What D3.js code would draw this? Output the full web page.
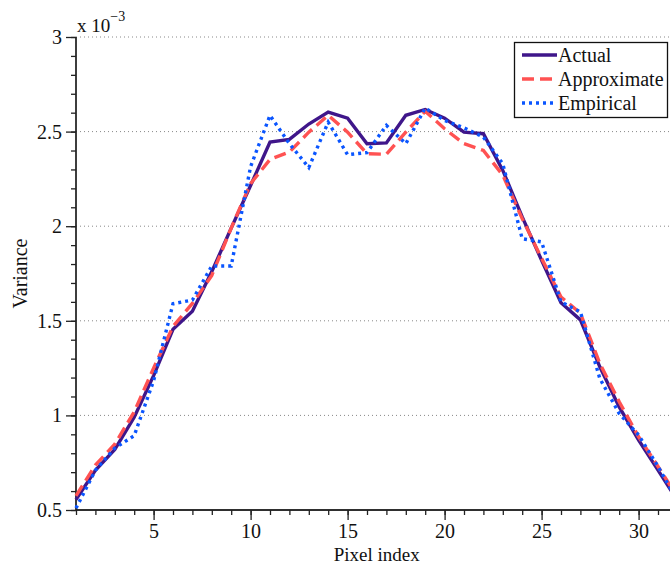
<!DOCTYPE html>
<html>
<head>
<meta charset="utf-8">
<script src="https://cdn.jsdelivr.net/npm/d3@7"></script>
<style>
  html, body { margin: 0; padding: 0; background: #fff; }
  svg { display: block; font-family: "Liberation Serif", "Times New Roman", serif; }
</style>
</head>
<body>
<svg id="chart" width="670" height="564"></svg>
<script>
// Pixel indices 1..32
const pixelIndex = d3.range(1, 33);

// Variance values, in units of 1e-3
const actual = [0.555, 0.71, 0.82, 0.99, 1.21, 1.455, 1.55, 1.76, 1.99, 2.215, 2.445, 2.459,
  2.54, 2.603, 2.571, 2.436, 2.44, 2.586, 2.617, 2.571, 2.497, 2.489, 2.295, 2.049,
  1.82, 1.595, 1.505, 1.257, 1.045, 0.87, 0.711, 0.55];
const approximate = [0.575, 0.737, 0.848, 1.019, 1.25, 1.47, 1.592, 1.74, 1.99, 2.225, 2.353, 2.392,
  2.497, 2.586, 2.497, 2.383, 2.38, 2.497, 2.607, 2.515, 2.436, 2.40, 2.27, 2.04,
  1.83, 1.626, 1.54, 1.275, 1.072, 0.887, 0.73, 0.57];
const empirical = [0.51, 0.71, 0.827, 0.893, 1.183, 1.59, 1.61, 1.79, 1.79, 2.315, 2.586, 2.436,
  2.31, 2.55, 2.378, 2.389, 2.533, 2.436, 2.624, 2.559, 2.52, 2.471, 2.33, 1.934,
  1.917, 1.6, 1.547, 1.195, 1.01, 0.896, 0.73, 0.55];

const yTicks = [0.5, 1, 1.5, 2, 2.5, 3];
const xTicks = [5, 10, 15, 20, 25, 30];
const gridValues = [1, 1.5, 2, 2.5, 3];

const series = [
  { name: "Actual", values: actual, color: "#3f168a", dash: null },
  { name: "Approximate", values: approximate, color: "#ff5252", dash: "12,6" },
  { name: "Empirical", values: empirical, color: "#0a55ff", dash: "3,4" }
];

const svg = d3.select("#chart");
const plotLeft = 76, plotTop = 37, plotBottom = 510;
const x = d3.scaleLinear().domain([1, 32]).range([plotLeft, plotLeft + 31 * 19.4]);
const y = d3.scaleLinear().domain([0.5, 3]).range([plotBottom, plotTop]);
const fontSize = 20;

// dotted horizontal grid
svg.append("g").selectAll("line").data(gridValues).join("line")
  .attr("x1", plotLeft).attr("x2", 670)
  .attr("y1", d => y(d)).attr("y2", d => y(d))
  .attr("stroke", "#888").attr("stroke-width", 1).attr("stroke-dasharray", "1,3");

// axes
const xAxis = svg.append("g").attr("transform", `translate(0,${plotBottom})`)
  .call(d3.axisBottom(x).tickValues(d3.range(1, 33)).tickSize(5).tickFormat(""));
xAxis.append("g").call(d3.axisBottom(x).tickValues(xTicks).tickSize(10).tickPadding(4)
  .tickFormat(d3.format("d")));
const yAxis = svg.append("g").attr("transform", `translate(${plotLeft},0)`)
  .call(d3.axisLeft(y).tickValues(d3.range(5, 31).map(v => v / 10)).tickSize(5).tickFormat(""));
yAxis.append("g").call(d3.axisLeft(y).tickValues(yTicks).tickSize(10).tickPadding(4)
  .tickFormat(d => String(d)));

svg.selectAll(".domain").attr("stroke", "#222").attr("stroke-width", 1.3);
svg.selectAll(".tick line").attr("stroke", "#222").attr("stroke-width", 1.3);
svg.selectAll(".tick text").attr("font-family", "Liberation Serif").attr("font-size", fontSize).attr("fill", "#111");
xAxis.selectAll(".domain").attr("d", `M${plotLeft},0H670`);
yAxis.selectAll(".domain").attr("d", `M0,${plotBottom}V${plotTop}`);

// lines
const line = d3.line().x((d, i) => x(pixelIndex[i])).y(d => y(d));
svg.append("g").selectAll("path").data(series).join("path")
  .attr("d", d => line(d.values))
  .attr("fill", "none")
  .attr("stroke", d => d.color)
  .attr("stroke-width", 3.4)
  .attr("stroke-linejoin", "miter")
  .attr("stroke-dasharray", d => d.dash);

// axis labels
svg.append("text").attr("x", (plotLeft + x(32)) / 2).attr("y", 561)
  .attr("text-anchor", "middle").attr("font-size", 19).attr("fill", "#111").text("Pixel index");
svg.append("text").attr("transform", `translate(27,${(plotTop + plotBottom) / 2}) rotate(-90)`)
  .attr("text-anchor", "middle").attr("font-size", fontSize).attr("fill", "#111").text("Variance");

// exponent label
const expo = svg.append("text").attr("x", 77).attr("y", 32).attr("font-size", 19).attr("fill", "#111");
expo.append("tspan").text("x 10");
expo.append("tspan").attr("dy", -11).attr("font-size", 14).text("\u22123");

// legend
const lg = svg.append("g");
lg.append("rect").attr("x", 514.5).attr("y", 42.5).attr("width", 153).attr("height", 75)
  .attr("fill", "#fff").attr("stroke", "#111").attr("stroke-width", 1.3);
const rows = lg.selectAll("g.row").data(series).join("g").attr("class", "row")
  .attr("transform", (d, i) => `translate(0,${55 + i * 24})`);
rows.append("line").attr("x1", 522).attr("x2", 557).attr("y1", 0).attr("y2", 0)
  .attr("stroke", d => d.color).attr("stroke-width", 3.4).attr("stroke-dasharray", d => d.dash);
rows.append("text").attr("x", 558).attr("y", 7).attr("font-size", fontSize).attr("fill", "#111")
  .text(d => d.name);
</script>
</body>
</html>
